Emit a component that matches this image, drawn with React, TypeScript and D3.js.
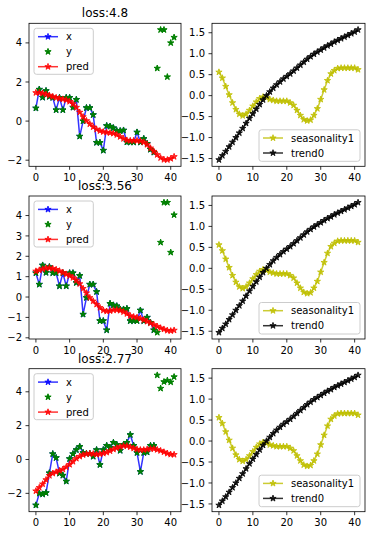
import React from "react";
import * as d3 from "d3";

// tick labels
const xTicks = [0, 10, 20, 30, 40];
const leftTicks1 = [-2, 0, 2, 4];
const leftTicks2 = [-2, -1, 0, 1, 2, 3, 4];
const leftTicks3 = [-2, 0, 2, 4];
const rightTicks = [-1.5, -1.0, -0.5, 0.0, 0.5, 1.0, 1.5];

const titles = ["loss:4.8", "loss:3.56", "loss:2.77"];

// row 1
const x1 = [0.66, 1.62, 1.21, 1.55, 1.25, 1.2, 0.57, 1.2, 0.57, 1.2, 1.2, 0.7, 1.1, -0.78, 0.0, 0.68, 0.68, 0.32, -1.1, -1.1, -1.5, -0.24, -0.27, -0.35, -0.5, -0.5, -0.47, -1.08, -1.08, -1.08, -0.57, -1.08, -0.9, -1.15, -1.45, -1.6];
const yTail1 = [2.7, 4.67, 4.67, 2.26, 4.0, 4.28];
const pred1 = [1.45, 1.45, 1.42, 1.37, 1.32, 1.25, 1.2, 1.15, 1.12, 1.08, 1.0, 0.88, 0.7, 0.45, 0.22, 0.02, -0.15, -0.3, -0.42, -0.5, -0.55, -0.58, -0.6, -0.63, -0.7, -0.8, -0.9, -0.98, -1.0, -1.0, -1.0, -1.02, -1.08, -1.2, -1.38, -1.55, -1.72, -1.88, -1.97, -1.98, -1.92, -1.82];

// row 2
const x2 = [1.18, 0.62, 1.56, 1.2, 1.48, 1.18, 1.18, 0.54, 1.18, 0.54, 1.18, 1.18, 0.7, 1.05, -0.85, -0.03, 0.62, 0.62, 0.26, -1.17, -1.17, -1.62, -0.32, -0.4, -0.44, -0.6, -0.6, -0.57, -1.17, -1.17, -1.17, -0.65, -1.17, -1.0, -1.25, -1.62];
const yTail2 = [-1.74, 2.68, 4.64, 4.64, 2.19, 4.03];
const pred2 = [1.27, 1.32, 1.37, 1.42, 1.43, 1.4, 1.35, 1.28, 1.2, 1.12, 1.04, 0.95, 0.82, 0.65, 0.42, 0.2, -0.03, -0.2, -0.36, -0.52, -0.65, -0.7, -0.68, -0.64, -0.63, -0.66, -0.73, -0.82, -0.92, -0.97, -1.0, -1.05, -1.12, -1.2, -1.28, -1.36, -1.44, -1.52, -1.58, -1.64, -1.66, -1.63];

// row 3
const x3 = [-2.7, -2.0, -2.05, -1.97, -0.8, 0.33, 0.1, -0.82, -0.94, -1.29, 0.04, 0.33, 0.57, 0.76, 0.4, 0.35, 0.35, 0.18, 0.57, -0.31, 0.57, 0.82, 0.7, 1.0, 0.88, 0.53, 0.88, 1.0, 1.46, 0.82, 0.4, -0.72, 0.4, 0.43, 0.82, 0.82];
const yTail3 = [4.98, 4.2, 4.59, 4.67, 4.57, 4.88];
const pred3 = [-1.86, -1.66, -1.45, -1.2, -0.95, -0.82, -0.74, -0.66, -0.58, -0.45, -0.3, -0.12, 0.06, 0.18, 0.27, 0.33, 0.35, 0.33, 0.3, 0.32, 0.36, 0.42, 0.5, 0.6, 0.68, 0.75, 0.8, 0.8, 0.74, 0.66, 0.6, 0.57, 0.57, 0.6, 0.63, 0.63, 0.58, 0.52, 0.44, 0.36, 0.3, 0.29];

// components (same in every row)
const seasonality1 = [0.56, 0.42, 0.22, 0.02, -0.17, -0.33, -0.44, -0.48, -0.44, -0.35, -0.25, -0.15, -0.07, -0.03, -0.05, -0.09, -0.11, -0.13, -0.13, -0.13, -0.13, -0.17, -0.23, -0.35, -0.47, -0.57, -0.6, -0.58, -0.47, -0.31, -0.09, 0.14, 0.36, 0.52, 0.6, 0.65, 0.66, 0.66, 0.66, 0.66, 0.66, 0.62];
const trend0 = [-1.53, -1.43, -1.33, -1.22, -1.11, -1.0, -0.89, -0.78, -0.66, -0.54, -0.43, -0.32, -0.21, -0.1, 0.0, 0.09, 0.18, 0.26, 0.33, 0.4, 0.46, 0.52, 0.59, 0.66, 0.73, 0.8, 0.87, 0.93, 0.99, 1.04, 1.09, 1.14, 1.19, 1.23, 1.28, 1.32, 1.36, 1.4, 1.44, 1.48, 1.52, 1.57];

const rows = [
  { title: titles[0], x: x1, y: x1.concat(yTail1), pred: pred1, ticks: leftTicks1 },
  { title: titles[1], x: x2, y: x2.concat(yTail2), pred: pred2, ticks: leftTicks2 },
  { title: titles[2], x: x3, y: x3.concat(yTail3), pred: pred3, ticks: leftTicks3 },
];

const FONT = "DejaVu Sans, sans-serif";
const cols = [[29, 181], [212, 365]];
const rowTop = [23.3, 196, 368.7];
const axH = 143;
const STAR = 3.3;

const minus = (s: string) => s.replace("-", "\u2212");

function starPath(cx: number, cy: number, r: number) {
  const pts: string[] = [];
  for (let k = 0; k < 10; k++) {
    const rr = k % 2 === 0 ? r : r * 0.381966;
    const a = -Math.PI / 2 + (k * Math.PI) / 5;
    pts.push(`${(cx + rr * Math.cos(a)).toFixed(2)},${(cy + rr * Math.sin(a)).toFixed(2)}`);
  }
  return "M" + pts.join("L") + "Z";
}

function padded(vals: number[]): [number, number] {
  const [lo, hi] = d3.extent(vals) as [number, number];
  const p = (hi - lo) * 0.05;
  return [lo - p, hi + p];
}

function Series({ data, xs, ys, color, line, alpha }: any) {
  const path = d3.line<number>().x((_, i) => xs(i)).y((d) => ys(d))(data);
  return (
    <g>
      {line && <path d={path || ""} fill="none" stroke={color} strokeWidth={1.5} strokeOpacity={alpha} strokeLinejoin="round" />}
      {data.map((d: number, i: number) => (
        <path key={i} d={starPath(xs(i), ys(d), STAR)} fill={color} fillOpacity={alpha} stroke={color} strokeOpacity={alpha} strokeWidth={1} />
      ))}
    </g>
  );
}

function Frame({ x0, x1, y0, y1, xs, ys, yTicks, fmt }: any) {
  return (
    <g fontFamily={FONT} fontSize={10} fill="#000">
      {xTicks.map((t) => (
        <g key={"x" + t}>
          <line x1={xs(t)} x2={xs(t)} y1={y1} y2={y1 + 3.5} stroke="#000" strokeWidth={0.8} />
          <text x={xs(t)} y={y1 + 14.5} textAnchor="middle">{t}</text>
        </g>
      ))}
      {yTicks.map((t: number) => (
        <g key={"y" + t}>
          <line x1={x0 - 3.5} x2={x0} y1={ys(t)} y2={ys(t)} stroke="#000" strokeWidth={0.8} />
          <text x={x0 - 7} y={ys(t) + 3.6} textAnchor="end">{fmt(t)}</text>
        </g>
      ))}
      <rect x={x0} y={y0} width={x1 - x0} height={y1 - y0} fill="none" stroke="#000" strokeWidth={0.8} />
    </g>
  );
}

function LegendItem({ x, y, color, label, line, alpha }: any) {
  return (
    <g>
      {line && <line x1={x} x2={x + 20} y1={y} y2={y} stroke={color} strokeOpacity={alpha} strokeWidth={1.5} />}
      <path d={starPath(x + 10, y, STAR)} fill={color} fillOpacity={alpha} stroke={color} strokeOpacity={alpha} strokeWidth={1} />
      <text x={x + 28} y={y + 3.6} fontFamily={FONT} fontSize={10} fill="#000">{label}</text>
    </g>
  );
}

export default function App() {
  const xDomain: [number, number] = [-2.05, 43.05];
  return (
    <svg width={370} height={536} style={{ position: "absolute", left: 0, top: 0, background: "#fff" }}>
      <rect width={370} height={536} fill="#fff" />
      {rows.map((r, ri) => {
        const y0 = rowTop[ri];
        const y1 = y0 + axH;
        const [lx0, lx1] = cols[0];
        const [rx0, rx1] = cols[1];
        const xsL = d3.scaleLinear().domain(xDomain).range([lx0, lx1]);
        const xsR = d3.scaleLinear().domain(xDomain).range([rx0, rx1]);
        const ysL = d3.scaleLinear().domain(padded([...r.x, ...r.y, ...r.pred])).range([y1, y0]);
        const ysR = d3.scaleLinear().domain(padded([...seasonality1, ...trend0])).range([y1, y0]);
        const legR = y1 - 5 - 31.5;
        return (
          <g key={ri}>
            <text x={(lx0 + lx1) / 2} y={y0 - 6} textAnchor="middle" fontFamily={FONT} fontSize={12} fill="#000">{r.title}</text>
            <Series data={r.x} xs={xsL} ys={ysL} color="#0000ff" line alpha={0.8} />
            <Series data={r.y} xs={xsL} ys={ysL} color="#008000" line={false} alpha={1} />
            <Series data={r.pred} xs={xsL} ys={ysL} color="#ff0000" line alpha={0.8} />
            <Frame x0={lx0} x1={lx1} y0={y0} y1={y1} xs={xsL} ys={ysL} yTicks={r.ticks} fmt={(t: number) => minus(String(t))} />
            <g>
              <rect x={lx0 + 5} y={y0 + 5} width={59.3} height={46} rx={2.5} fill="#fff" fillOpacity={0.8} stroke="#cccccc" strokeWidth={1} />
              <LegendItem x={lx0 + 9} y={y0 + 13.4} color="#0000ff" label="x" line alpha={0.8} />
              <LegendItem x={lx0 + 9} y={y0 + 28.4} color="#008000" label="y" line={false} alpha={1} />
              <LegendItem x={lx0 + 9} y={y0 + 43.4} color="#ff0000" label="pred" line alpha={0.8} />
            </g>

            <Series data={seasonality1} xs={xsR} ys={ysR} color="#bfbf00" line alpha={0.8} />
            <Series data={trend0} xs={xsR} ys={ysR} color="#000000" line alpha={0.8} />
            <Frame x0={rx0} x1={rx1} y0={y0} y1={y1} xs={xsR} ys={ysR} yTicks={rightTicks} fmt={(t: number) => minus(t.toFixed(1))} />
            <g>
              <rect x={rx1 - 5 - 101} y={legR} width={101} height={31.5} rx={2.5} fill="#fff" fillOpacity={0.8} stroke="#cccccc" strokeWidth={1} />
              <LegendItem x={rx1 - 5 - 97} y={legR + 8.2} color="#bfbf00" label="seasonality1" line alpha={0.8} />
              <LegendItem x={rx1 - 5 - 97} y={legR + 23.2} color="#000000" label="trend0" line alpha={0.8} />
            </g>
          </g>
        );
      })}
    </svg>
  );
}
